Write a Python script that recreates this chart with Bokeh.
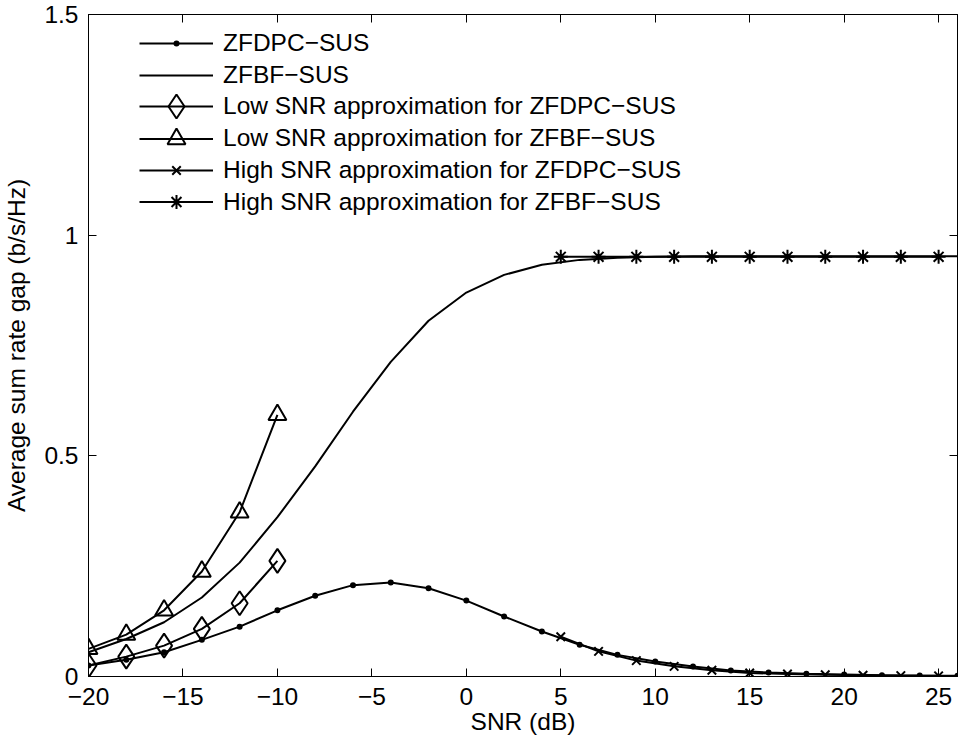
from bokeh.plotting import figure
from bokeh.models import Range1d, FixedTicker, LinearAxis, Legend, LegendItem
from bokeh.embed import file_html
from bokeh.resources import INLINE

# ---------------- data ----------------
snr_full = [-20, -18, -16, -14, -12, -10, -8, -6, -4, -2, 0, 2, 4, 6, 8, 10,
            12, 14, 16, 18, 20, 22, 24, 26]
zfdpc_sus = [0.025, 0.038, 0.055, 0.083, 0.113, 0.150, 0.183, 0.207, 0.213,
             0.200, 0.172, 0.136, 0.102, 0.072, 0.049, 0.034, 0.0226, 0.0135,
             0.009, 0.006, 0.0045, 0.003, 0.002, 0.0015]
zfbf_sus = [0.055, 0.085, 0.123, 0.179, 0.258, 0.361, 0.476, 0.600, 0.713,
            0.806, 0.870, 0.910, 0.933, 0.944, 0.949, 0.951, 0.952, 0.952,
            0.952, 0.952, 0.952, 0.952, 0.952, 0.952]

snr_low = [-20, -18, -16, -14, -12, -10]
low_zfdpc = [0.025, 0.045, 0.070, 0.108, 0.166, 0.262]
low_zfbf = [0.0625, 0.095, 0.150, 0.238, 0.372, 0.593]

snr_high = [5, 7, 9, 11, 13, 15, 17, 19, 21, 23, 25]
high_zfdpc = [0.090, 0.057, 0.036, 0.023, 0.014, 0.008, 0.0055, 0.004,
              0.003, 0.002, 0.0015]
high_zfbf = [0.951, 0.951, 0.951, 0.951, 0.951, 0.951, 0.951, 0.951,
             0.951, 0.951, 0.951]

x_ticks = [-20, -15, -10, -5, 0, 5, 10, 15, 20, 25]
x_tick_labels = ["\u221220", "\u221215", "\u221210", "\u22125", "0", "5",
                 "10", "15", "20", "25"]
y_ticks = [0, 0.5, 1, 1.5]
y_tick_labels = ["0", "0.5", "1", "1.5"]

legend_labels = [
    "ZFDPC\u2212SUS",
    "ZFBF\u2212SUS",
    "Low SNR approximation for ZFDPC\u2212SUS",
    "Low SNR approximation for ZFBF\u2212SUS",
    "High SNR approximation for ZFDPC\u2212SUS",
    "High SNR approximation for ZFBF\u2212SUS",
]

FONT = "Liberation Sans"
FS = "24.5px"

# ---------------- figure ----------------
p = figure(width=958, height=742, x_range=Range1d(-20, 26),
           y_range=Range1d(0, 1.5), output_backend="svg",
           toolbar_location=None, min_border_left=87, min_border_right=1,
           min_border_top=14, min_border_bottom=66)
p.xgrid.visible = False
p.ygrid.visible = False
p.outline_line_color = "black"
p.outline_line_width = 1
p.background_fill_color = "white"
p.border_fill_color = "white"

xa = p.xaxis[0]
xa.ticker = FixedTicker(ticks=x_ticks)
xa.major_label_overrides = {t: l for t, l in zip(x_ticks, x_tick_labels)}
xa.axis_label = "SNR (dB)"
xa.major_label_standoff = 11
xa.axis_label_standoff = 0

ya = p.yaxis[0]
ya.ticker = FixedTicker(ticks=y_ticks)
ya.major_label_overrides = {t: l for t, l in zip(y_ticks, y_tick_labels)}
ya.axis_label = "Average sum rate gap (b/s/Hz)"
ya.major_label_standoff = 10
ya.axis_label_standoff = 11

for ax in (xa, ya):
    ax.major_tick_in = 8
    ax.major_tick_out = 0
    ax.minor_tick_in = 0
    ax.minor_tick_out = 0
    ax.axis_line_color = "black"
    ax.major_tick_line_color = "black"
    ax.major_label_text_font = FONT
    ax.major_label_text_font_size = FS
    ax.major_label_text_color = "black"
    ax.axis_label_text_font = FONT
    ax.axis_label_text_font_size = FS
    ax.axis_label_text_font_style = "normal"
    ax.axis_label_text_color = "black"

top_ax = LinearAxis(ticker=FixedTicker(ticks=x_ticks))
right_ax = LinearAxis(ticker=FixedTicker(ticks=y_ticks))
for ax in (top_ax, right_ax):
    ax.major_tick_in = 8
    ax.major_tick_out = 0
    ax.minor_tick_in = 0
    ax.minor_tick_out = 0
    ax.major_label_text_font_size = "0px"
    ax.major_label_standoff = 0
    ax.major_label_text_alpha = 0
    ax.axis_line_color = "black"
    ax.major_tick_line_color = "black"
p.add_layout(top_ax, "above")
p.add_layout(right_ax, "right")

LW = 2
# ZFDPC-SUS
l_dpc = p.line(snr_full, zfdpc_sus, line_color="black", line_width=LW)
s_dpc = p.scatter(snr_full, zfdpc_sus, marker="dot", size=24,
                  line_color="black", line_width=LW)
# ZFBF-SUS
l_bf = p.line(snr_full, zfbf_sus, line_color="black", line_width=LW)
# Low SNR ZFDPC
l_ldpc = p.line(snr_low, low_zfdpc, line_color="black", line_width=LW)
s_ldpc = p.scatter(snr_low, low_zfdpc, marker="diamond", size=24,
                   line_color="black", fill_color=None, line_width=LW)
# Low SNR ZFBF
l_lbf = p.line(snr_low, low_zfbf, line_color="black", line_width=LW)
s_lbf = p.scatter(snr_low, low_zfbf, marker="triangle", size=18,
                  line_color="black", fill_color=None, line_width=LW)
# High SNR ZFDPC
l_hdpc = p.line(snr_high, high_zfdpc, line_color="black", line_width=LW)
s_hdpc = p.scatter(snr_high, high_zfdpc, marker="x", size=12,
                   line_color="black", line_width=LW)
# High SNR ZFBF
l_hbf = p.line(snr_high, high_zfbf, line_color="black", line_width=LW)
s_hbf = p.scatter(snr_high, high_zfbf, marker="asterisk", size=14,
                  line_color="black", line_width=LW)

rows = [
    ([l_dpc, s_dpc], 60),
    ([l_bf], 28),
    ([l_ldpc, s_ldpc], 60),
    ([l_lbf, s_lbf], 45),
    ([l_hdpc, s_hdpc], 30),
    ([l_hbf, s_hbf], 35),
]
frame_h = 662
for k, ((rends, H), lab) in enumerate(zip(rows, legend_labels)):
    c = 28.7 + 31.8 * k
    leg = Legend(items=[LegendItem(label=lab, renderers=rends)],
                 location=(51, frame_h - c - H / 2),
                 glyph_width=74, glyph_height=H, label_height=H,
                 padding=0, margin=0, spacing=0, label_standoff=10,
                 border_line_alpha=0, background_fill_alpha=0,
                 label_text_font=FONT, label_text_font_size=FS,
                 label_text_color="black")
    p.add_layout(leg, "center")

open("out.html", "w").write(file_html(p, INLINE))
